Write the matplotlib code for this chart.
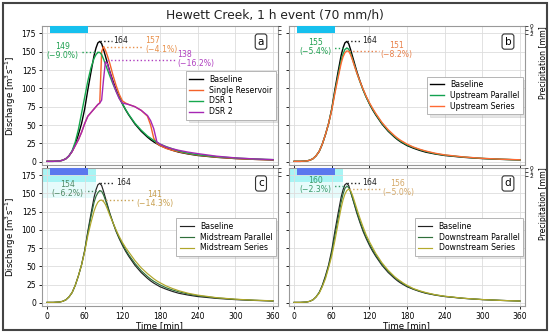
import numpy as np
import matplotlib
matplotlib.use('Agg')
import matplotlib.pyplot as plt
from matplotlib.patches import Rectangle
import matplotlib.transforms as mtransforms

# ---------------- data ----------------
time_min = [0, 10, 20, 25, 30, 35, 40, 45, 50, 55, 60, 65, 70, 75, 78, 81, 84, 87, 90, 93, 96,
            100, 105, 110, 115, 120, 125, 130, 140, 150, 160, 165, 170, 175, 180, 190, 200,
            210, 225, 240, 270, 300, 330, 360]

baseline = [0.5, 0.5, 1, 2, 4, 8, 14, 24, 37, 52, 72, 98, 122, 145, 155, 162, 164, 161, 153, 144, 135,
            123, 110, 98, 88, 79, 71, 64, 51.5, 41.5, 33.5, 30, 27, 24.5, 22, 18.5, 15.5,
            13, 10.5, 8.5, 6, 4.3, 3.2, 2.4]

single_reservoir = [0.5, 0.5, 1, 2, 4, 8, 14, 22, 30, 40, 52, 62, 67, 72, 75, 78, 80, 150, 157, 152, 145,
                    134, 118, 104, 92, 83, 80, 78, 75, 70, 62, 50, 32, 25, 22, 18, 15.5,
                    13.5, 11, 9, 6.2, 4.4, 3.2, 2.4]

dsr1 = [0.5, 0.5, 1, 2, 4, 8, 15, 27, 44, 66, 88, 110, 128, 141, 146, 149, 149, 146, 140, 133, 126,
        117, 106, 96, 87, 79, 71.5, 64.5, 52.5, 43, 35, 32, 29, 26.5, 24, 20.5, 17.5,
        14.5, 11.5, 9.5, 6.8, 5, 3.7, 2.8]

dsr2 = [0.5, 0.5, 1, 2, 4, 8, 14, 22, 30, 40, 52, 62, 67, 72, 75, 78, 80, 84, 112, 136, 134,
        122, 108, 96, 86, 80, 79, 78, 75, 70, 63, 56, 45, 27, 24, 20, 17.5,
        15.5, 13, 11, 7.5, 5.2, 3.8, 2.8]

up_parallel = [0.5, 0.5, 1, 2, 4, 8, 14, 24, 37, 52, 71, 95, 117, 138, 147, 153, 155, 153.5, 148, 140, 132,
               121, 109, 98, 88, 79.5, 72, 65, 52.5, 42.5, 34.5, 31, 28, 25.5, 23, 19.5, 16.5,
               14, 11, 9, 6.3, 4.5, 3.3, 2.5]

up_series = [0.5, 0.5, 1, 2, 4, 8, 14, 24, 37, 52, 70, 93, 114, 134, 143, 148.5, 151, 150.5, 146, 139, 131,
             121, 109.5, 99, 89, 80.5, 73, 66, 53.5, 43.5, 35.5, 32, 29, 26.5, 24, 20, 17,
             14.5, 11.5, 9.3, 6.5, 4.6, 3.4, 2.6]

mid_parallel = [0.5, 0.5, 1, 2, 4, 8, 14, 24, 37, 52, 71, 96, 118, 138, 146, 151, 154, 153, 148, 141, 133,
                122, 110, 99, 89, 81, 73, 66, 54, 44, 36, 32.5, 29.5, 27, 24.5, 20.5, 17.5,
                15, 12, 9.7, 6.7, 4.7, 3.4, 2.6]

mid_series = [0.5, 0.5, 1, 2, 4, 8, 14, 24, 37, 52, 70, 92, 110, 126, 133, 138, 140.5, 141, 139, 135, 129,
              120, 110, 100, 91, 83, 76, 70, 58, 48, 40, 36.5, 33, 30, 27.5, 23, 19.5,
              16.5, 13, 10.5, 7, 4.9, 3.5, 2.7]

down_parallel = [0.5, 0.5, 1, 2, 4, 8, 14, 23, 35, 50, 68, 92, 115, 138, 149, 157, 160, 158.5, 152, 144, 136,
                 125, 112, 100, 90, 81, 73, 66, 53, 43, 35, 31.5, 28.5, 25.5, 23, 19, 16,
                 13.5, 10.8, 8.8, 6.1, 4.4, 3.2, 2.4]

down_series = [0.5, 0.5, 1, 2, 4, 8, 13, 22, 33, 48, 64, 85, 108, 130, 141, 149, 154, 156, 154, 148, 140,
               129, 116, 104, 93, 84, 76, 68, 55, 44.5, 36, 32.5, 29.5, 26.5, 24, 19.5, 16.5,
               14, 11, 9, 6.2, 4.4, 3.2, 2.4]

rain_start = 5
rain_end = 65
rain_depth = 1.75

x_ticks = [0, 60, 120, 180, 240, 300, 360]
y_ticks = [0, 25, 50, 75, 100, 125, 150, 175]
precip_ticks = [0, 1, 2]

panel_series = {
    'a': [('Baseline', baseline, 'black'),
          ('Single Reservoir', single_reservoir, '#f4622a'),
          ('DSR 1', dsr1, '#16a84e'),
          ('DSR 2', dsr2, '#a626b4')],
    'b': [('Baseline', baseline, 'black'),
          ('Upstream Parallel', up_parallel, '#12a150'),
          ('Upstream Series', up_series, '#ff6a33')],
    'c': [('Baseline', baseline, '#222222'),
          ('Midstream Parallel', mid_parallel, '#2f6f3a'),
          ('Midstream Series', mid_series, '#b0a62a')],
    'd': [('Baseline', baseline, '#222222'),
          ('Downstream Parallel', down_parallel, '#2f6f3a'),
          ('Downstream Series', down_series, '#b4aa2c')],
}

# annotations: (text, value, line_x0, line_x1, text_x, ha, multialign, color)
panel_notes = {
    'a': [('164', 164, 84, 104, 106, 'left', 'left', '#222222'),
          ('157\n(\u22124.1%)', 157, 89, 153, 156, 'left', 'left', '#e8904a'),
          ('138\n(\u221216.2%)', 138, 95, 205, 208, 'left', 'left', '#b040c0'),
          ('149\n(\u22129.0%)', 149, 82, 52, 50, 'right', 'center', '#1fa050')],
    'b': [('164', 164, 84, 106, 109, 'left', 'left', '#222222'),
          ('155\n(\u22125.4%)', 155, 85, 62, 60, 'right', 'center', '#1fa050'),
          ('151\n(\u22128.2%)', 151, 87, 136, 138, 'left', 'center', '#e8804a')],
    'c': [('164', 164, 84, 107, 110, 'left', 'left', '#222222'),
          ('154\n(\u22126.2%)', 154, 85, 60, 58, 'right', 'center', '#4f8a66'),
          ('141\n(\u221214.3%)', 141, 87, 139, 142, 'left', 'center', '#c8a050')],
    'd': [('164', 164, 84, 105, 108, 'left', 'left', '#222222'),
          ('160\n(\u22122.3%)', 160, 85, 62, 60, 'right', 'center', '#3a9a6a'),
          ('156\n(\u22125.0%)', 156, 88, 137, 140, 'left', 'center', '#d4a868')],
}

# ---------------- figure ----------------
fig = plt.figure(figsize=(5.5, 3.33), dpi=100)
fig.patches.append(Rectangle((0.006, 0.009), 0.988, 0.982, transform=fig.transFigure,
                             fill=False, ec='#444444', lw=1.5))

rects = {'a': [0.0758, 0.5045, 0.4297, 0.4174],
         'b': [0.525, 0.5045, 0.4295, 0.4174],
         'c': [0.0758, 0.081, 0.4297, 0.4145],
         'd': [0.525, 0.081, 0.4295, 0.4145]}

xlim = (-8.5, 368)
ylim = (-4.5, 185)
p_max = 35.0

for key in ['a', 'b', 'c', 'd']:
    ax = fig.add_axes(rects[key])
    ax.set_xlim(*xlim)
    ax.set_ylim(*ylim)
    ax.set_xticks(x_ticks)
    ax.set_yticks(y_ticks)
    ax.grid(True, color='#dddddd', lw=0.6)
    ax.set_axisbelow(True)
    ax.tick_params(labelsize=5.5, length=2.5, width=0.6, pad=1.5)
    for sp in ax.spines.values():
        sp.set_color('#999999')
        sp.set_linewidth(0.8)

    if key in ('c', 'd'):
        trans = mtransforms.blended_transform_factory(ax.transData, ax.transAxes)
        ax.add_patch(Rectangle((xlim[0], 1 - 7.5 / p_max), 78 - xlim[0], 7.5 / p_max,
                               transform=trans, color='#e6fbfb', lw=0, zorder=0.2))
        ax.add_patch(Rectangle((xlim[0], 1 - 3.6 / p_max), 78 - xlim[0], 3.6 / p_max,
                               transform=trans, color='#a8f4f4', lw=0, zorder=0.3))

    lw = 1.0 if key in ('a', 'b') else 0.85
    for name, vals, col in panel_series[key]:
        ax.plot(time_min, vals, color=col, lw=lw, label=name)

    for txt, val, x0, x1, tx, ha, ma, col in panel_notes[key]:
        ax.plot([x0, x1], [val, val], ls=':', color=col, lw=1.0)
        ax.text(tx, val + 1.5, txt, ha=ha, va='center', multialignment=ma,
                color=col, fontsize=5.6, linespacing=1.0)

    leg = ax.legend(loc='center right', fontsize=5.6, frameon=True, fancybox=False,
                    shadow={'color': '#999999', 'alpha': 0.25}, borderaxespad=0.3,
                    handlelength=1.8, labelspacing=0.25, borderpad=0.4)
    leg.get_frame().set_edgecolor('#aaaaaa')
    leg.get_frame().set_linewidth(0.6)

    ax.text(0.928, 0.888, key, transform=ax.transAxes, ha='center', va='center',
            fontsize=7.5, bbox=dict(boxstyle='round,pad=0.25', fc='white', ec='#333333', lw=0.8))

    if key in ('a', 'b'):
        ax.tick_params(labelbottom=False)
    else:
        ax.set_xlabel('Time [min]', fontsize=6.2, labelpad=0.5)
    if key in ('b', 'd'):
        ax.tick_params(labelleft=False)
    else:
        ax.set_ylabel('Discharge [m$^3$s$^{-1}$]', fontsize=6.2)
        ax.yaxis.set_label_coords(-0.10, 0.5)

    ax2 = ax.twinx()
    ax2.set_ylim(p_max, 0)
    ax2.set_yticks(precip_ticks)
    ax2.tick_params(labelsize=4.2, length=2, width=0.5, pad=1)
    for sp in ax2.spines.values():
        sp.set_visible(False)
    bar_color = '#5a78ee' if key in ('c', 'd') else '#16c0ee'
    ax2.bar(rain_start, rain_depth, width=rain_end - rain_start, align='edge',
            color=bar_color, lw=0, zorder=2)
    if key in ('b', 'd'):
        ax2.set_ylabel('Precipitation [mm]', fontsize=5.6)
        ax2.yaxis.set_label_coords(1.06, 0.74)
    else:
        ax2.tick_params(labelright=False)

fig.suptitle('Hewett Creek, 1 h event (70 mm/h)', fontsize=8.8, y=0.975, va='top',
             color='#222222')

fig.savefig('out.png', dpi=100)
